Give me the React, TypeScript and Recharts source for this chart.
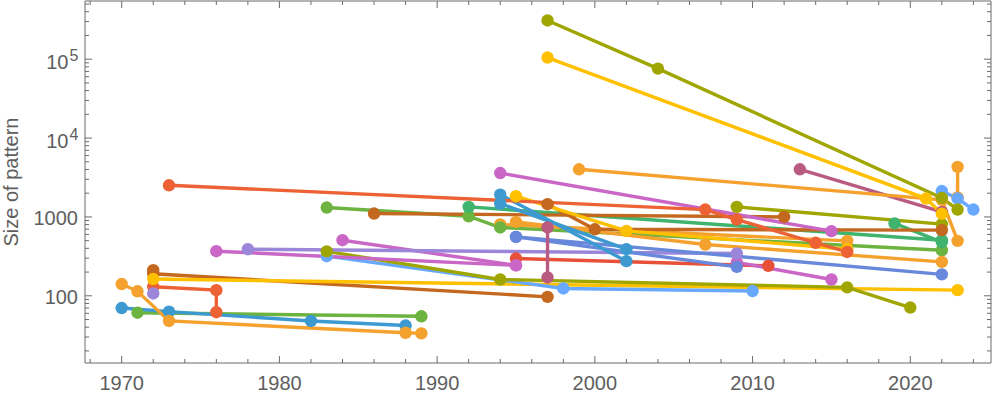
import React from 'react';
import { LineChart, Line, XAxis, YAxis, Label } from 'recharts';

const FRAME = '#6b6b6b';
const TEXT = '#5e5e5e';
const FONT = '"Liberation Sans", Arial, Helvetica, sans-serif';

// Colors
const RED = '#EC6235';
const RED2 = '#E8503A';
const BLUE = '#3D9AD1';
const ORANGE = '#F5A12E';
const GREEN = '#6DB33F';
const PURPLE = '#9B86D9';
const BROWN = '#C4681F';
const LBLUE = '#68A9FF';
const YELLOW = '#FFC000';
const PINK = '#C966C6';
const OLIVE = '#A0A600';
const TEAL = '#40B36E';
const MAROON = '#B95B80';
const BVIOLET = '#6888DC';

// Axis ticks
const xTickYears = [1968, 1970, 1972, 1974, 1976, 1978, 1980, 1982, 1984, 1986, 1988, 1990, 1992, 1994, 1996, 1998, 2000, 2002, 2004, 2006, 2008, 2010, 2012, 2014, 2016, 2018, 2020, 2022, 2024];
const xMajorYears = [1970, 1980, 1990, 2000, 2010, 2020];
const yTickValues = [20, 30, 40, 50, 60, 70, 80, 90, 100, 200, 300, 400, 500, 600, 700, 800, 900, 1000, 2000, 3000, 4000, 5000, 6000, 7000, 8000, 9000, 10000, 20000, 30000, 40000, 50000, 60000, 70000, 80000, 90000, 100000, 200000, 300000, 400000, 500000];
const yMajorLabels: Record<number, [string, string]> = { 100: ['100', ''], 1000: ['1000', ''], 10000: ['10', '4'], 100000: ['10', '5'] };

// Series data: [year, size]
const oliveTop = [[1997, 310000], [2004, 76000], [2022, 1740], [2023, 1240]];
const yellowTop = [[1997, 105000], [2021, 1710], [2022, 1100]];
const orangeTop = [[1999, 4020], [2022, 1650], [2023, 497]];
const orangeVert = [[2023, 4300], [2023, 1770]];
const maroonTop = [[2013, 4020], [2022, 1160]];
const redA = [[1973, 2520], [2007, 1240], [2009, 927], [2014, 470], [2016, 360]];
const pinkC = [[1994, 3600], [2015, 660]];
const blueA = [[1994, 1920], [2002, 275]];
const blueB = [[1994, 1480], [2002, 390]];
const yellowB = [[1995, 1830], [2002, 665], [2016, 390]];
const brownB = [[1997, 1450], [2000, 697], [2022, 680]];
const brownA = [[1986, 1105], [2012, 1000]];
const tealA = [[1992, 1340], [2022, 507]];
const tealB = [[2019, 827], [2022, 480]];
const lime = [[1983, 1316], [1992, 1020], [1994, 735], [2022, 378]];
const oliveE = [[2009, 1340], [2022, 810]];
const orangeC = [[1995, 865], [2007, 447], [2022, 269]];
const orangeD = [[1994, 805], [2016, 497]];
const maroonVert = [[1997, 735], [1997, 171]];
const bvioletA = [[1995, 559], [2022, 187]];
const bvioletB = [[1995, 559], [2009, 233]];
const purpleA = [[1978, 390], [2009, 344]];
const pinkA = [[1976, 368], [1995, 243]];
const pinkB = [[1984, 507], [1995, 243]];
const pinkE = [[2009, 265], [2015, 161]];
const redC = [[1995, 297], [2011, 240]];
const oliveB = [[1983, 366], [1994, 161], [2016, 128], [2020, 71]];
const lblueB = [[1983, 318], [1998, 124], [2010, 115]];
const yellowA = [[1972, 163], [2023, 118]];
const brownC = [[1972, 211], [1972, 190], [1997, 97]];
const redB = [[1972, 130], [1976, 118], [1976, 62]];
const purpleDot = [[1972, 107]];
const orangeA = [[1970, 141], [1971, 114], [1973, 48], [1988, 34], [1989, 33.4]];
const blueC = [[1970, 70], [1973, 63], [1982, 48], [1988, 42]];
const greenC = [[1971, 61], [1989, 55]];
const lblueTop = [[2022, 2130], [2023, 1710], [2024, 1240]];

const seriesList: [number[][], string][] = [
  [greenC, GREEN],
  [blueC, BLUE],
  [orangeA, ORANGE],
  [redB, RED],
  [purpleDot, PURPLE],
  [brownC, BROWN],
  [yellowA, YELLOW],
  [lblueB, LBLUE],
  [oliveB, OLIVE],
  [redC, RED2],
  [pinkE, PINK],
  [pinkA, PINK],
  [pinkB, PINK],
  [purpleA, PURPLE],
  [bvioletB, BVIOLET],
  [bvioletA, BVIOLET],
  [maroonVert, MAROON],
  [orangeD, ORANGE],
  [lime, GREEN],
  [orangeC, ORANGE],
  [oliveE, OLIVE],
  [tealA, TEAL],
  [tealB, TEAL],
  [brownA, BROWN],
  [brownB, BROWN],
  [yellowB, YELLOW],
  [blueB, BLUE],
  [blueA, BLUE],
  [pinkC, PINK],
  [redA, RED],
  [maroonTop, MAROON],
  [orangeTop, ORANGE],
  [orangeVert, ORANGE],
  [lblueTop, LBLUE],
  [yellowTop, YELLOW],
  [oliveTop, OLIVE],
];

const X_DOMAIN: [number, number] = [1967.673, 2025.117];
const Y_DOMAIN: [number, number] = [14.06, 547000];

const XTickBottom = (props: any) => {
  const { x, y, payload } = props;
  const major = xMajorYears.includes(payload.value);
  return (
    <g>
      <line x1={x} x2={x} y1={y} y2={y - (major ? 7 : 4)} stroke={FRAME} strokeWidth={1} />
      {major && (
        <text x={x} y={y + 27} textAnchor="middle" fontSize={20} fill={TEXT} fontFamily={FONT}>
          {payload.value}
        </text>
      )}
    </g>
  );
};

const XTickTop = (props: any) => {
  const { x, y, payload } = props;
  const major = xMajorYears.includes(payload.value);
  return <line x1={x} x2={x} y1={y} y2={y + (major ? 7 : 4)} stroke={FRAME} strokeWidth={1} />;
};

const YTickLeft = (props: any) => {
  const { x, y, payload } = props;
  const lab = yMajorLabels[payload.value];
  const major = !!lab;
  return (
    <g>
      <line x1={x} x2={x + (major ? 7 : 4)} y1={y} y2={y} stroke={FRAME} strokeWidth={1} />
      {lab && lab[1] === '' && (
        <text x={x - 7} y={y + 8} textAnchor="end" fontSize={20} fill={TEXT} fontFamily={FONT}>
          {lab[0]}
        </text>
      )}
      {lab && lab[1] !== '' && (
        <g>
          <text x={x - 16.5} y={y + 10} textAnchor="end" fontSize={20} fill={TEXT} fontFamily={FONT}>
            {lab[0]}
          </text>
          <text x={x - 15.5} y={y + 1.7} textAnchor="start" fontSize={16} fill={TEXT} fontFamily={FONT}>
            {lab[1]}
          </text>
        </g>
      )}
    </g>
  );
};

const YTickRight = (props: any) => {
  const { x, y, payload } = props;
  const major = !!yMajorLabels[payload.value];
  return <line x1={x} x2={x - (major ? 7 : 4)} y1={y} y2={y} stroke={FRAME} strokeWidth={1} />;
};

export default function App() {
  return (
    <div style={{ position: 'absolute', left: 0, top: 0, width: 1000, height: 394, background: '#fff' }}>
      <LineChart width={1000} height={394} margin={{ top: 0, right: 8, bottom: 0, left: 0 }}>
        <XAxis
          xAxisId={0}
          type="number"
          dataKey="x"
          domain={X_DOMAIN}
          allowDataOverflow
          ticks={xTickYears}
          interval={0}
          height={31}
          tickSize={0}
          tickMargin={0}
          tickLine={false}
          axisLine={{ stroke: FRAME, strokeWidth: 1 }}
          tick={<XTickBottom />}
        />
        <XAxis
          xAxisId="top"
          orientation="top"
          type="number"
          dataKey="x"
          domain={X_DOMAIN}
          allowDataOverflow
          ticks={xTickYears}
          interval={0}
          height={1}
          tickSize={0}
          tickMargin={0}
          tickLine={false}
          axisLine={{ stroke: FRAME, strokeWidth: 1.2 }}
          tick={<XTickTop />}
        />
        <YAxis
          yAxisId={0}
          type="number"
          scale="log"
          domain={Y_DOMAIN}
          allowDataOverflow
          ticks={yTickValues}
          interval={0}
          width={85}
          tickSize={0}
          tickMargin={0}
          tickLine={false}
          axisLine={{ stroke: FRAME, strokeWidth: 1 }}
          tick={<YTickLeft />}
        >
          <Label
            content={() => (
              <text
                transform="translate(17.5,182) rotate(-90)"
                textAnchor="middle"
                fontSize={20}
                fill={TEXT}
                fontFamily={FONT}
              >
                Size of pattern
              </text>
            )}
          />
        </YAxis>
        <YAxis
          yAxisId="right"
          orientation="right"
          type="number"
          scale="log"
          domain={Y_DOMAIN}
          allowDataOverflow
          ticks={yTickValues}
          interval={0}
          width={1}
          tickSize={0}
          tickMargin={0}
          tickLine={false}
          axisLine={{ stroke: FRAME, strokeWidth: 1 }}
          tick={<YTickRight />}
        />
        {seriesList.map(([pts, color], i) => (
          <Line
            key={i}
            xAxisId={0}
            yAxisId={0}
            data={pts.map(([x, y]) => ({ x, y }))}
            dataKey="y"
            type="linear"
            stroke={color}
            strokeWidth={3.4}
            dot={{ r: 6.2, fill: color, stroke: color, strokeWidth: 0 }}
            activeDot={false}
            isAnimationActive={false}
            legendType="none"
          />
        ))}
      </LineChart>
    </div>
  );
}
